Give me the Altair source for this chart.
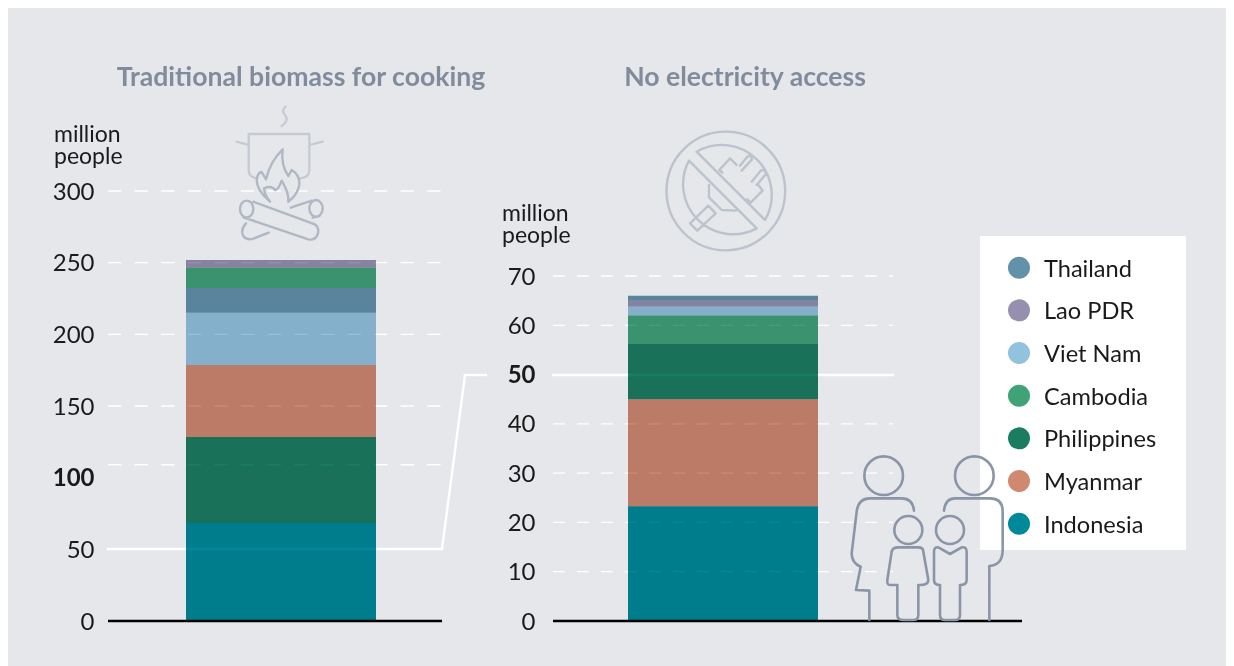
import altair as alt
import pandas as pd

BG = "#e6e7eb"
FONT = "Lato"
INK = "#1a1a1a"

countries = ["Thailand", "Lao PDR", "Viet Nam", "Cambodia", "Philippines", "Myanmar", "Indonesia"]
palette = ["#6491aa", "#9690ae", "#92c2de", "#40a277", "#1a7d5f", "#d08870", "#008a99"]

biomass_stack = ["Indonesia", "Philippines", "Myanmar", "Viet Nam", "Thailand", "Cambodia", "Lao PDR"]
biomass_values = [68.4, 60.0, 50.2, 36.5, 17.2, 14.2, 5.4]
access_stack = ["Indonesia", "Myanmar", "Philippines", "Cambodia", "Viet Nam", "Lao PDR", "Thailand"]
access_values = [23.3, 21.7, 11.2, 5.8, 1.8, 1.2, 1.0]

panels = ["Traditional biomass for cooking", "No electricity access"]

left_ticks = [0, 50, 100, 150, 200, 250, 300]
left_dashed = [109, 150, 200, 250, 300]
right_ticks = [0, 10, 20, 30, 40, 50, 60, 70]
right_dashed = [10, 20, 30, 40, 60, 70]

left_y = alt.Scale(domain=[0, 300], range=[613, 183])
right_y = alt.Scale(domain=[0, 70], range=[613, 268])
panel_x = alt.Scale(type="point", domain=panels, range=[273, 715], padding=0)
bar_color = alt.Scale(domain=countries, range=palette)
legend_y = alt.Scale(type="point", domain=countries, range=[259.7, 515.7], padding=0)
one = pd.DataFrame({"i": [0]})


def stack_df(panel, names, values):
    return pd.DataFrame({"panel": panel, "country": names, "v": values, "rank": range(len(names))})


def rule_layer(values, scale, x0, x2, **mark):
    return alt.Chart(pd.DataFrame({"v": values})).mark_rule(**mark).encode(
        y=alt.Y("v:Q", scale=scale, axis=None), x=alt.value(x0), x2=alt.value(x2)
    )


def bars(df, scale):
    return alt.Chart(df).mark_bar(size=190, blend="multiply").encode(
        x=alt.X("panel:N", scale=panel_x, axis=None),
        y=alt.Y("sum(v):Q", scale=scale, axis=None, stack="zero"),
        color=alt.Color("country:N", scale=bar_color, legend=None),
        order=alt.Order("rank:Q"),
    )


def axis_layer(values, scale, x_off, bold):
    return alt.Chart(pd.DataFrame({"v": values})).mark_point(opacity=0).encode(
        y=alt.Y("v:Q", scale=scale, axis=alt.Axis(
            orient="left", values=values, title=None, grid=False, domain=False, ticks=False,
            labelPadding=0, offset=-x_off, labelFont=FONT, labelFontSize=24, labelColor=INK,
            labelOffset=1, labelFontWeight=alt.expr(f"datum.value=={bold}?700:400"),
        )),
        x=alt.value(0),
    )


def text_layer(txt, x, y, **mark):
    return alt.Chart(pd.DataFrame({"t": [txt]})).mark_text(font=FONT, **mark).encode(
        text="t:N", x=alt.value(x), y=alt.value(y)
    )


def icon(path, ox, oy, colour, width=2.0):
    # paths are written in 3x pixels of their own little box, whose origin is (ox, oy)
    return alt.Chart(one).mark_point(
        shape=path, size=4 / 9, filled=False, stroke=colour, strokeWidth=width, opacity=1,
        strokeJoin="round", strokeCap="round",
    ).encode(x=alt.value(ox), y=alt.value(oy))


def seg(x, y, x2, y2):
    return alt.Chart(one).mark_rule(stroke="white", strokeWidth=2.4, strokeCap="square").encode(
        x=alt.value(x), y=alt.value(y), x2=alt.value(x2), y2=alt.value(y2)
    )


pot = ("M626,132 L808,132 L808,240 Q808,262 780,265 M626,132 L626,240 Q626,262 652,265 "
       "M590,155 L626,165 M848,155 L808,165")
steam = "M737,50 Q722,62 735,75 Q748,92 725,108"
fire = ("M690,335 Q650,300 650,270 Q652,248 665,246 Q672,258 678,268 Q690,215 728,178 "
        "Q722,225 745,258 L755,240 Q780,255 778,285 Q772,315 745,335 Q748,310 725,272 "
        "Q715,300 705,300 Q695,285 672,295 Q675,318 690,335")
logs = ("M640,335 L825,403 Q840,415 832,435 Q825,452 805,448 L610,382 "
        "M620,332 A20,25 0 1 0 620,382 A20,25 0 1 0 620,332 "
        "M752,353 L815,332 M838,378 L818,383 "
        "M828,330 A20,25 0 1 1 828,380 A20,25 0 1 1 828,330 "
        "M618,400 Q600,420 610,438 Q620,452 640,446 L686,428")
plug = ("M708,35 A178,178 0 1 1 707,35 "
        "M620,95 A150,150 0 0 1 825,300 Z M597,122 A150,150 0 0 0 800,325 Z "
        "M740,135 L720,115 L688,150 L697,158 M805,195 L818,212 L782,248 L772,238 "
        "M750,137 L772,110 Q782,102 786,118 L755,152 M785,185 L812,152 Q825,145 828,162 L800,195 "
        "M657,195 L657,232 L695,270 L738,272 "
        "M655,257 L600,310 L622,332 L677,280 Z")
adults = ("M73,737 A57,57 0 1 1 189,737 A57,57 0 1 1 73,737 "
          "M345,737 A57,57 0 1 1 461,737 A57,57 0 1 1 345,737 "
          "M222,842 Q218,805 185,805 L90,805 Q55,805 50,845 L35,970 Q35,1000 62,1010 L48,1080 L88,1082 L88,1170 "
          "M312,842 Q316,805 345,805 L450,805 Q488,805 488,845 L488,960 Q488,1005 448,1008 L448,1170")
kids = ("M163,900 A42,42 0 1 1 247,900 A42,42 0 1 1 163,900 "
        "M288,900 A42,42 0 1 1 372,900 A42,42 0 1 1 288,900 "
        "M175,952 L235,952 Q250,952 250,965 L265,1050 Q265,1065 240,1065 L235,1065 L235,1155 Q235,1170 220,1170 "
        "L190,1170 Q172,1170 172,1155 L172,1065 L150,1065 Q140,1065 142,1050 L155,965 Q158,952 175,952 "
        "M295,952 L330,972 L365,952 Q380,950 380,965 L380,1050 Q380,1065 360,1065 L360,1155 Q360,1170 345,1170 "
        "L315,1170 Q300,1170 300,1155 L300,1065 Q282,1065 282,1050 L282,965 Q282,950 295,952")

legend_df = pd.DataFrame({"country": countries})
legend_box = alt.Chart(one).mark_rect(color="white").encode(
    x=alt.value(972), x2=alt.value(1178), y=alt.value(228), y2=alt.value(542)
)
legend_dots = alt.Chart(legend_df).mark_point(filled=True, opacity=1, size=484).encode(
    x=alt.value(1011),
    y=alt.Y("country:N", scale=legend_y, axis=None),
    color=alt.Color("country:N", scale=bar_color, legend=None),
)
legend_text = alt.Chart(legend_df).mark_text(
    font=FONT, fontSize=23.6, color=INK, align="left", baseline="middle", dy=2
).encode(
    x=alt.value(1036),
    y=alt.Y("country:N", scale=legend_y, axis=None),
    text="country:N",
)

layers = [
    rule_layer(left_dashed, left_y, 100, 434, stroke="white", strokeWidth=1.3, strokeDash=[13.3, 13.3]),
    rule_layer(right_dashed, right_y, 545, 885, stroke="white", strokeWidth=1.3, strokeDash=[12, 12]),
    seg(100, 541, 434, 541),
    seg(434, 541, 457, 367),
    seg(457, 367, 478, 367),
    seg(545, 367, 885, 367),
    bars(stack_df(panels[0], biomass_stack, biomass_values), left_y),
    bars(stack_df(panels[1], access_stack, access_values), right_y),
    rule_layer([0], left_y, 100, 434, stroke="black", strokeWidth=2.5),
    rule_layer([0], right_y, 545, 1014, stroke="black", strokeWidth=2.5),
    axis_layer(left_ticks, left_y, 86, 100),
    axis_layer(right_ticks, right_y, 527, 50),
    text_layer(panels[0], 293, 69.5, fontSize=26.6, fontWeight=700, color="#808c9c", align="center", baseline="middle"),
    text_layer(panels[1], 737, 69.5, fontSize=26.6, fontWeight=700, color="#808c9c", align="center", baseline="middle"),
    text_layer("million\npeople", 46, 127, fontSize=23, color=INK, align="left", baseline="middle", lineBreak="\n", lineHeight=22),
    text_layer("million\npeople", 494, 206, fontSize=23, color=INK, align="left", baseline="middle", lineBreak="\n", lineHeight=22),
    legend_box,
    legend_dots,
    legend_text,
    icon(pot, 32, 82, "#c5cad3", 2.3),
    icon(steam, 32, 82, "#c5cad3", 2.3),
    icon(fire, 32, 82, "#b0b8c3", 2.4),
    icon(logs, 32, 82, "#b0b8c3", 2.4),
    icon(plug, 482, 112, "#bcc3cd", 2.4),
    icon(adults, 832, 222, "#8a96a8", 2.6),
    icon(kids, 832, 222, "#8a96a8", 2.6),
]

chart = (
    alt.layer(*layers)
    .resolve_scale(y="independent", color="shared", x="shared")
    .properties(
        width=1218, height=658, background=BG,
        padding=0, autosize=alt.AutoSizeParams(type="none"),
    )
    .configure_view(stroke=None)
)

chart.save("out.html", embed_options={"renderer": "svg", "actions": False})
